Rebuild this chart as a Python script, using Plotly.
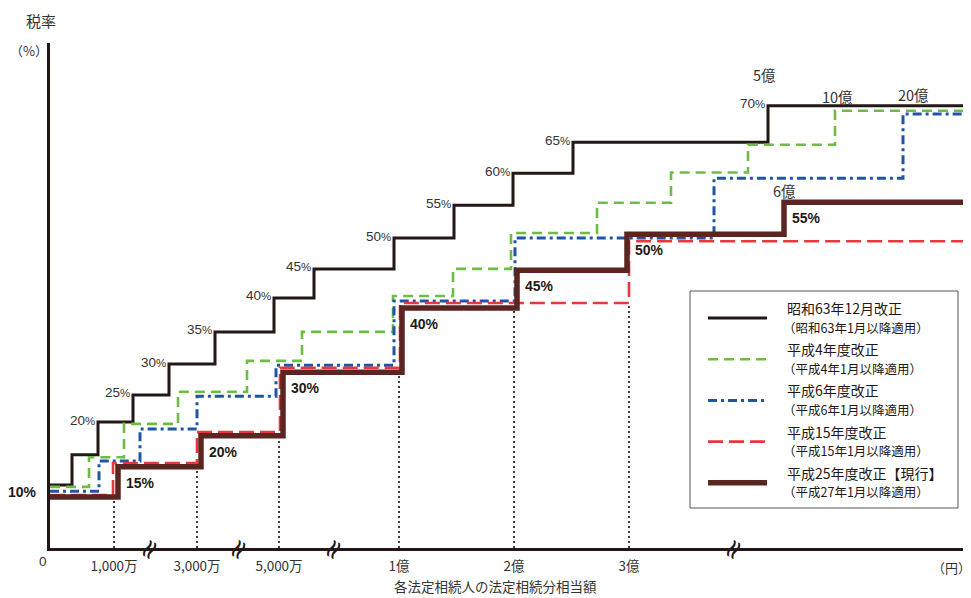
import plotly.graph_objects as go

# ---------------- data ----------------
# x: schematic position on the broken amount axis (axis units, not to scale)
# y: drawn height of each step, read on the tax-rate scale (%)
s63_breaks = [22, 48, 83, 119, 165, 224, 264, 344, 404, 463, 523, 718]
s63_levels = [10.0, 14.8, 20.0, 24.3, 29.2, 34.3, 39.7, 44.3, 49.2, 54.4, 59.5, 64.4, 70.2]
s63_rates = [10, 15, 20, 25, 30, 35, 40, 45, 50, 55, 60, 65, 70]

h4_breaks = [39, 74, 128, 197, 252, 343, 403, 461, 547, 621, 698, 785]
h4_levels = [9.7, 14.4, 19.7, 24.8, 29.7, 34.3, 40.0, 44.3, 50.0, 54.8, 59.6, 64.0, 69.4]

h6_breaks = [49, 90, 147, 226, 344, 465, 664, 853]
h6_levels = [9.0, 13.8, 18.9, 24.1, 29.0, 39.2, 49.2, 58.7, 68.9]

h15_breaks = [63, 147, 230, 350, 579]
h15_levels = [8.4, 13.5, 18.4, 28.6, 38.9, 48.7]

h25_breaks = [68, 151, 233, 352, 467, 577, 734]
h25_levels = [8.1, 12.9, 17.8, 27.9, 38.1, 44.1, 49.8, 54.9]
h25_rates = [10, 15, 20, 30, 40, 45, 50, 55]

tick_pos = [64, 147, 229, 349, 464, 579]
tick_labels = ["1,000万", "3,000万", "5,000万", "1億", "2億", "3億"]
axis_break_pos = [98, 187, 282, 682]
x_end = 921
y_top = 80.16

series_names = ["昭和63年12月改正", "平成4年度改正", "平成6年度改正", "平成15年度改正", "平成25年度改正【現行】"]
series_subs = ["（昭和63年1月以降適用）", "（平成4年1月以降適用）", "（平成6年1月以降適用）",
               "（平成15年1月以降適用）", "（平成27年1月以降適用）"]

# ---------------- styles ----------------
JP = "Noto Sans CJK JP"
LAT = "Liberation Sans"
INK = "#231815"
TXT = "#333333"
styles = [
    dict(color="#231815", width=3, dash="solid"),
    dict(color="#6dbd45", width=2.6, dash="10px,6px"),
    dict(color="#1f55a6", width=3, dash="9px,4px,3px,4px"),
    dict(color="#e8383d", width=2.6, dash="15px,6px"),
    dict(color="#5b2522", width=5.5, dash="solid"),
]
all_breaks = [s63_breaks, h4_breaks, h6_breaks, h15_breaks, h25_breaks]
all_levels = [s63_levels, h4_levels, h6_levels, h15_levels, h25_levels]

# page body has an 8px margin, so the figure is sized to the remaining space
OFF = 8
W, H = 971 - OFF, 598 - OFF
L, R, T, B = 42, 0, 35, 50
PW, PH = W - L - R, H - T - B


def px_x(sx):
    return (sx - OFF - L) / PW


def px_y(sy):
    return (T + PH - (sy - OFF)) / PH


def level_left_of(breaks, levels, x):
    i = sum(1 for b in breaks if b < x)
    return levels[i]


fig = go.Figure()

# dotted guide lines under the current schedule
for p in tick_pos:
    top = min(level_left_of(h15_breaks, h15_levels, p - 3),
              level_left_of(h25_breaks, h25_levels, p - 3))
    fig.add_trace(go.Scatter(x=[p, p], y=[0, top], mode="lines",
                             line=dict(color="#3c3c3c", width=2, dash="2px,3px"),
                             showlegend=False, hoverinfo="skip"))

# step lines
for name, br, lv, st in zip(series_names, all_breaks, all_levels, styles):
    fig.add_trace(go.Scatter(
        x=[0] + br + [x_end], y=lv + [lv[-1]], mode="lines", line_shape="hv",
        line=dict(color=st["color"], width=st["width"], dash=st["dash"]),
        name=name, showlegend=False))

ann = []
# thin rate labels of the S63 schedule
for i in range(2, len(s63_rates)):
    ann.append(dict(x=s63_breaks[i - 1], y=s63_levels[i], xref="x", yref="y",
                    text=f"{s63_rates[i]}<span style='font-size:11.5px'>%</span>",
                    showarrow=False, xanchor="right", yanchor="middle", xshift=-1, yshift=2,
                    font=dict(family=LAT, size=13.5, color=TXT)))
# bold labels of the current schedule
ann.append(dict(x=0, y=h25_levels[0], xref="x", yref="y", text="<b>10%</b>", showarrow=False,
                xanchor="right", yanchor="middle", xshift=-11, yshift=5,
                font=dict(family=LAT, size=14, color=INK)))
for i in range(1, len(h25_rates)):
    ann.append(dict(x=h25_breaks[i - 1], y=h25_levels[i], xref="x", yref="y",
                    text=f"<b>{h25_rates[i]}%</b>", showarrow=False,
                    xanchor="left", yanchor="middle", xshift=6, yshift=-16,
                    font=dict(family=LAT, size=14, color=INK)))
# amount labels at the top brackets
amt = [("5億", s63_breaks[-1], s63_levels[-1], -4, 31),
       ("10億", h4_breaks[-1], h4_levels[-1], 2, 14),
       ("20億", h6_breaks[-1], h6_levels[-1], 10, 19),
       ("6億", h25_breaks[-1], h25_levels[-1], 0, 12)]
for t, x, y, xs, ys in amt:
    ann.append(dict(x=x, y=y, xref="x", yref="y", text=t, showarrow=False, xanchor="center",
                    yanchor="middle", xshift=xs, yshift=ys,
                    font=dict(family=JP, size=14.5, color=TXT)))
# axis break marks
for p in axis_break_pos:
    ann.append(dict(x=p, y=0, xref="x", yref="y", text="≈", showarrow=False, textangle=-60,
                    xanchor="center", yanchor="middle", yshift=-1,
                    font=dict(family="DejaVu Sans", size=27, color=INK)))
# axis texts
ann += [
    dict(x=0, y=0, xref="x", yref="y", text="0", showarrow=False, xanchor="center",
         yanchor="middle", xshift=-7, yshift=-13, font=dict(family=LAT, size=13.5, color=TXT)),
    dict(x=px_x(951), y=px_y(567), xref="paper", yref="paper", text="（円）", showarrow=False,
         xanchor="center", yanchor="middle", font=dict(family=JP, size=13, color=TXT)),
    dict(x=px_x(495), y=px_y(586), xref="paper", yref="paper", text="各法定相続人の法定相続分相当額",
         showarrow=False, xanchor="center", yanchor="middle",
         font=dict(family=JP, size=13.5, color=TXT)),
    dict(x=px_x(41), y=px_y(21), xref="paper", yref="paper", text="税率", showarrow=False,
         xanchor="center", yanchor="middle", font=dict(family=JP, size=15, color=TXT)),
    dict(x=px_x(29), y=px_y(50), xref="paper", yref="paper", text="（%）", showarrow=False,
         xanchor="center", yanchor="middle", font=dict(family=JP, size=13, color=TXT)),
]

shapes = [
    dict(type="rect", xref="paper", yref="paper", x0=px_x(690), x1=px_x(958), y0=px_y(508), y1=px_y(291),
         line=dict(color="#555555", width=1), fillcolor="white", layer="above"),
]
# custom legend rows
row0, row_gap = 318, 41.2
for k, (nm, sb, st) in enumerate(zip(series_names, series_subs, styles)):
    ry = row0 + k * row_gap
    shapes.append(dict(type="line", xref="paper", yref="paper", x0=px_x(708), x1=px_x(767),
                       y0=px_y(ry), y1=px_y(ry), layer="above",
                       line=dict(color=st["color"], width=st["width"], dash=st["dash"])))
    ann.append(dict(x=px_x(785), y=px_y(ry - 10), xref="paper", yref="paper", text=nm,
                    showarrow=False, xanchor="left", yanchor="middle",
                    font=dict(family=JP, size=14, color=INK)))
    ann.append(dict(x=px_x(781), y=px_y(ry + 9), xref="paper", yref="paper", text=sb,
                    showarrow=False, xanchor="left", yanchor="middle",
                    font=dict(family=JP, size=12.5, color=INK)))

fig.update_layout(
    width=W, height=H, autosize=False,
    margin=dict(l=L, r=R, t=T, b=B),
    paper_bgcolor="white", plot_bgcolor="white",
    showlegend=False, annotations=ann, shapes=shapes,
    xaxis=dict(range=[0, x_end], showgrid=False, zeroline=False, showline=True,
               linecolor=INK, linewidth=2.5, ticks="", tickvals=tick_pos, ticktext=tick_labels,
               tickfont=dict(family=JP, size=13.5, color=TXT), ticklabelstandoff=4),
    yaxis=dict(range=[0, y_top], showgrid=False, zeroline=False, showline=True,
               linecolor=INK, linewidth=2.5, ticks="", showticklabels=False),
)

fig.write_html("out.html")
